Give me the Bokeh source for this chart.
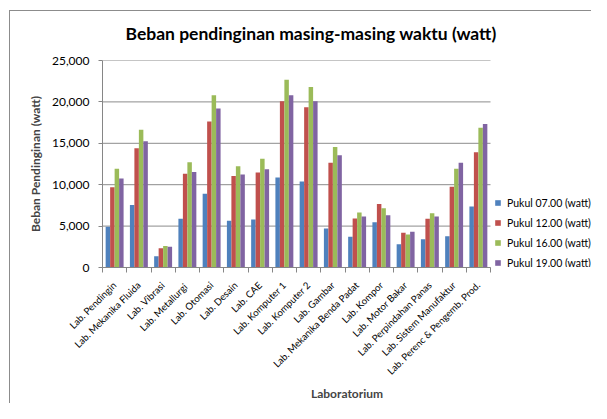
from bokeh.plotting import figure
from bokeh.models import (Range1d, FixedTicker, NumeralTickFormatter, CustomJSTickFormatter,
                          Legend, LegendItem, Title, ColumnDataSource)
from bokeh.embed import file_html
from bokeh.resources import INLINE
import math

labs = ["Lab. Pendingin", "Lab. Mekanika Fluida", "Lab. Vibrasi", "Lab.  Metallurgi",
        "Lab. Otomasi", "Lab. Desain", "Lab. CAE", "Lab. Komputer 1", "Lab. Komputer 2",
        "Lab. Gambar", "Lab. Mekanika Benda Padat", "Lab. Kompor", "Lab. Motor Bakar",
        "Lab. Perpindahan Panas", "Lab. Sistem Manufaktur", "Lab. Perenc & Pengemb. Prod."]
series_names = ["Pukul 07.00 (watt)", "Pukul 12.00 (watt)", "Pukul 16.00 (watt)", "Pukul 19.00 (watt)"]
pukul_07 = [4920, 7560, 1360, 5880, 8920, 5640, 5800, 10880, 10400, 4720, 3720, 5480, 2800, 3400, 3760, 7360]
pukul_12 = [9680, 14400, 2320, 11320, 17640, 11040, 11480, 20080, 19360, 12640, 5920, 7680, 4200, 5880, 9760, 13920]
pukul_16 = [11920, 16640, 2600, 12720, 20800, 12240, 13120, 22680, 21800, 14560, 6640, 7160, 4000, 6560, 11920, 16880]
pukul_19 = [10760, 15240, 2520, 11520, 19200, 11240, 11880, 20800, 20080, 13560, 6160, 6320, 4320, 6160, 12640, 17320]
y_ticks = [0, 5000, 10000, 15000, 20000, 25000]

colors = ["#4F81BD", "#C0504D", "#9BBB59", "#8064A2"]
FONT = "Lato"
GRID = "#8c8c8c"

W, H = 591, 403
FL, FR, FT, FB = 102, 490, 60, 268          # plot-area edges (px)
n = len(labs)
x_end = n * (W - FL) / (FR - FL)            # frame spans to canvas edge; room for legend

p = figure(width=W, height=H, output_backend="svg", toolbar_location=None,
           x_range=Range1d(0, x_end), y_range=Range1d(0, 25000),
           min_border_left=FL, min_border_right=0, min_border_top=FT, min_border_bottom=H - FB)
p.outline_line_color = None
p.background_fill_color = "white"
p.border_fill_color = None
p.styles = {
    "background-image": "linear-gradient(#8c8c8c, #8c8c8c), linear-gradient(#8c8c8c, #8c8c8c)",
    "background-repeat": "no-repeat",
    "background-position": "9px 10px, 9px 10px",
    "background-size": "1px 100%, 100% 1px",
}

t = Title(text="Beban pendinginan masing-masing waktu (watt)", align="left", offset=23,
          text_font=FONT, text_font_size="17.5px", text_font_style="bold", text_color="#000000",
          standoff=33)
p.add_layout(t, "above")

# horizontal gridlines limited to the category area
p.xgrid.grid_line_color = None
p.ygrid.grid_line_color = None
p.segment(x0=[0] * len(y_ticks), x1=[n] * len(y_ticks), y0=y_ticks, y1=y_ticks,
          line_color=GRID, line_width=1)

centers = [i + 0.5 for i in range(n)]
bw = 0.185
offs = [-1.5 * bw, -0.5 * bw, 0.5 * bw, 1.5 * bw]
items = []
for k, vals in enumerate([pukul_07, pukul_12, pukul_16, pukul_19]):
    src = ColumnDataSource(dict(x=[c + offs[k] for c in centers], top=vals))
    r = p.vbar(x="x", top="top", width=bw, source=src, fill_color=colors[k], line_color=None)
    items.append(LegendItem(label=series_names[k], renderers=[r]))

legend = Legend(items=items, location=(FR + 4 - FL, -2), padding=0, margin=0,
                border_line_color=None, background_fill_alpha=0, glyph_width=7, glyph_height=7,
                label_standoff=6, spacing=7, label_text_font=FONT, label_text_font_size="10.5px",
                label_text_color="#000000", label_height=13)
p.add_layout(legend, "center")

# axes
p.xaxis.bounds = (0, n)
p.xaxis.ticker = FixedTicker(ticks=centers, minor_ticks=list(range(n + 1)))
p.xaxis.formatter = CustomJSTickFormatter(args=dict(labels=labs),
                                          code="return labels[Math.round(tick - 0.5)];")
p.xaxis.major_tick_line_color = None
p.xaxis.major_tick_out = 5
p.xaxis.major_tick_in = 0
p.xaxis.minor_tick_out = 5
p.xaxis.minor_tick_in = 0
p.xaxis.minor_tick_line_color = "#868686"
p.xaxis.axis_line_color = "#868686"
p.xaxis.major_label_orientation = math.pi / 4
p.xaxis.major_label_text_font = FONT
p.xaxis.major_label_text_font_size = "9.6px"
p.xaxis.major_label_text_color = "#000000"
p.xaxis.major_label_standoff = 11
p.xaxis.axis_label = "Laboratorium"
p.xaxis.axis_label_text_font = FONT
p.xaxis.axis_label_text_font_size = "12px"
p.xaxis.axis_label_text_font_style = "bold"
p.xaxis.axis_label_standoff = 2

p.yaxis.ticker = FixedTicker(ticks=y_ticks)
p.yaxis.formatter = NumeralTickFormatter(format="0,0")
p.yaxis.major_tick_out = 4
p.yaxis.major_tick_in = 0
p.yaxis.minor_tick_line_color = None
p.yaxis.major_tick_line_color = "#868686"
p.yaxis.axis_line_color = "#868686"
p.yaxis.major_label_text_font = FONT
p.yaxis.major_label_text_font_size = "12px"
p.yaxis.major_label_text_color = "#000000"
p.yaxis.major_label_standoff = 9
p.yaxis.axis_label = "Beban Pendinginan (watt)"
p.yaxis.axis_label_text_font = FONT
p.yaxis.axis_label_text_font_size = "12px"
p.yaxis.axis_label_text_font_style = "bold"
p.yaxis.axis_label_standoff = 6

open("out.html", "w").write(file_html(p, INLINE))
